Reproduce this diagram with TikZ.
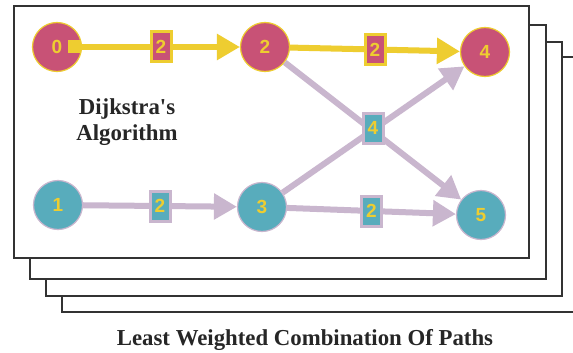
\documentclass[tikz,border=0pt]{standalone}
\usepackage{fontspec}
\setmainfont{Liberation Serif}
\newfontfamily\nodefont{Liberation Sans}
\usetikzlibrary{arrows.meta}
\definecolor{cmag}{RGB}{200,82,118}
\definecolor{cteal}{RGB}{88,172,188}
\definecolor{cyel}{RGB}{238,205,48}
\definecolor{cpur}{RGB}{201,182,206}
\tikzset{bigtip/.tip={Triangle[length=23pt,width=25pt]}}
\begin{document}
\begin{tikzpicture}[x=1pt,y=-1pt,
  vert/.style={circle,minimum size=49pt,inner sep=0pt,line width=1.2pt,
    font=\nodefont\bfseries\fontsize{19}{19}\selectfont,text=cyel},
  hot/.style={vert,fill=cmag,draw=cyel},
  cold/.style={vert,fill=cteal,draw=cpur},
  wbox/.style={rectangle,minimum width=20pt,minimum height=30pt,inner sep=0pt,line width=3pt,
    font=\nodefont\bfseries\fontsize{19}{19}\selectfont,text=cyel},
  hotw/.style={wbox,fill=cmag,draw=cyel},
  coldw/.style={wbox,fill=cteal,draw=cpur},
  hotedge/.style={draw=cyel,line width=6pt,-{bigtip}},
  coldedge/.style={draw=cpur,line width=6pt,-{bigtip}},
  sheet/.style={draw=black!80,line width=1.3pt,fill=white},
  lbl/.style={font=\bfseries\fontsize{22.8}{26}\selectfont,text=black!85,align=center}]
\clip (0,0) rectangle (573,353);
\fill[white] (0,0) rectangle (573,353);
\draw[sheet] (62,57) rectangle (600,312);
\draw[sheet] (46,42) rectangle (562,296);
\draw[sheet] (30,25) rectangle (546,279);
\draw[sheet] (14,6) rectangle (529,258);

\node[hot]  (n0) at (57,47)  {0};
\node[hot]  (n2) at (265,47) {2};
\node[hot]  (n4) at (485,52) {4};
\node[cold] (n1) at (58,205) {1};
\node[cold] (n3) at (262,207) {3};
\node[cold] (n5) at (481,215) {5};

\draw[hotedge,{Square[length=13pt,width=13pt]}-{bigtip},shorten <=-14pt] (n0) -- node[hotw] (w02) {2} (n2);
\draw[hotedge] (n2) -- node[hotw] (w24) {2} (n4);
\draw[coldedge] (n2) -- (n5);
\draw[coldedge] (n3) -- (n4);
\node[coldw] (w4) at (373,128) {4};
\draw[coldedge] (n1) -- node[coldw] (w13) {2} (n3);
\draw[coldedge] (n3) -- node[coldw] (w35) {2} (n5);

\node[lbl] (title) at (127,122) {Dijkstra\textquotesingle s\\Algorithm};
\node[lbl] (caption) at (305,340) {Least Weighted Combination Of Paths};
\end{tikzpicture}
\end{document}
